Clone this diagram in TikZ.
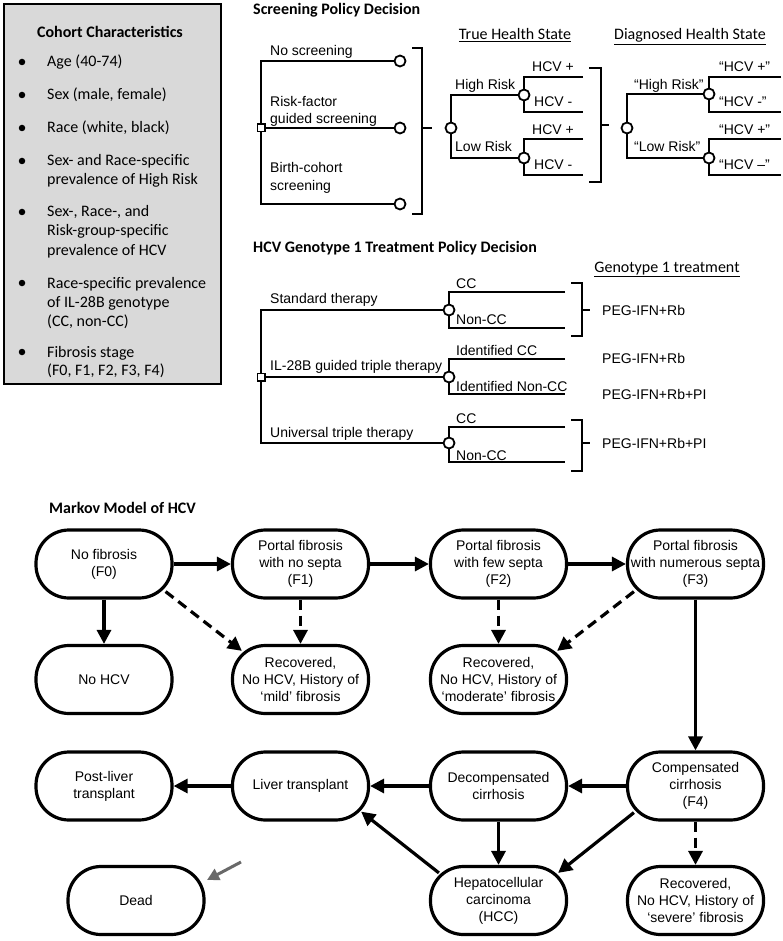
\documentclass[tikz,border=0pt]{standalone}
\usepackage{fontspec}
\setmainfont{Liberation Sans}
\newfontfamily\calibfam{Carlito}
\usetikzlibrary{arrows.meta,calc}
\newcommand\arialF{\fontsize{14}{17}\selectfont}
\newcommand\calF{\calibfam\fontsize{16}{19.5}\selectfont}
\newcommand\calB{\calibfam\bfseries\fontsize{16}{19.5}\selectfont}
\definecolor{cgray}{RGB}{217,217,217}
\definecolor{agray}{RGB}{105,105,105}
\begin{document}
\begin{tikzpicture}[x=1pt,y=-1pt,
 tl/.style={line width=1.8pt},
 chance/.style={circle,draw,fill=white,line width=1.8pt,minimum size=11pt,inner sep=0pt},
 decis/.style={rectangle,draw,fill=white,line width=1.5pt,minimum size=7.5pt,inner sep=0pt},
 lbl/.style={anchor=base west,inner sep=0pt,font=\arialF},
 clbl/.style={anchor=base west,inner sep=0pt,font=\calF},
 hdr/.style={anchor=base west,inner sep=0pt,font=\calB},
 uhdr/.style={anchor=base,inner sep=0pt,font=\calF},
 bul/.style={circle,fill,inner sep=0pt,minimum size=6.5pt},
 state/.style={draw,line width=3.2pt,rectangle,rounded corners=33pt,minimum width=136pt,minimum height=68pt,align=center,font=\arialF,inner sep=1pt},
 arr/.style={line width=3.2pt,-{Triangle[length=14pt,width=14pt]}},
 darr/.style={arr,dash pattern=on 10pt off 6pt},
]
\fill[white] (0,0) rectangle (783,941);
\useasboundingbox (0,0) rectangle (783,941);

% ---------------- Cohort box ----------------
\node[draw,fill=cgray,line width=1.8pt,minimum width=217pt,minimum height=380pt,inner sep=0pt] (cohort) at (112.5,194) {};
\node[anchor=base,inner sep=0pt,font=\calB] (ctitle) at (110,38) {Cohort Characteristics};
\node[bul] (b1) at (22,62) {};
\node[bul] (b2) at (22,95) {};
\node[bul] (b3) at (22,128) {};
\node[bul] (b4) at (22,161) {};
\node[bul] (b5) at (22,212) {};
\node[bul] (b6) at (22,283) {};
\node[bul] (b7) at (22,352) {};
\node[clbl] (i1) at (47,67) {Age (40-74)};
\node[clbl] (i2) at (47,100) {Sex (male, female)};
\node[clbl] (i3) at (47,133) {Race (white, black)};
\node[clbl] (i4a) at (47,166) {Sex- and Race-specific};
\node[clbl] (i4b) at (47,185) {prevalence of High Risk};
\node[clbl] (i5a) at (47,217) {Sex-, Race-, and};
\node[clbl] (i5b) at (47,236) {Risk-group-specific};
\node[clbl] (i5c) at (47,255) {prevalence of HCV};
\node[clbl] (i6a) at (47,288) {Race-specific prevalence};
\node[clbl] (i6b) at (47,307) {of IL-28B genotype};
\node[clbl] (i6c) at (47,326) {(CC, non-CC)};
\node[clbl] (i7a) at (47,357) {Fibrosis stage};
\node[clbl] (i7b) at (47,375) {(F0, F1, F2, F3, F4)};

% ---------------- Screening tree ----------------
\node[hdr] (scrT) at (253,15) {Screening Policy Decision};
\node[uhdr] (ths) at (515,40) {\underline{True Health State}};
\node[uhdr] (dhs) at (690,40) {\underline{Diagnosed Health State}};

\coordinate (s1) at (261,61);
\coordinate (s3) at (261,204);
\node[chance] (c1) at (400,61) {};
\node[chance] (c2) at (400,128) {};
\node[chance] (c3) at (400,204) {};
\draw[tl] (c1) -- (s1) -- (s3) -- (c3);
\node[decis] (sq1) at (261,128) {};
\draw[tl] (sq1) -- (c2);
\node[lbl] (l1) at (270,56) {No screening};
\node[lbl] (l2a) at (270,107) {Risk-factor};
\node[lbl] (l2b) at (270,124) {guided screening};
\node[lbl] (l3a) at (270,173) {Birth-cohort};
\node[lbl] (l3b) at (270,191) {screening};

% bracket 1
\coordinate (k1a) at (412,48); \coordinate (k1b) at (422,48);
\coordinate (k1c) at (422,214); \coordinate (k1d) at (412,214);
\coordinate (k1m) at (422,128); \coordinate (k1n) at (432,128);
\draw[tl] (k1a) -- (k1b) -- (k1c) -- (k1d);
\draw[tl] (k1m) -- (k1n);

% true health state
\coordinate (th) at (451,95); \coordinate (tlo) at (451,158);
\node[chance] (t1) at (524,95) {};
\node[chance] (t2) at (524,158) {};
\draw[tl] (t1) -- (th) -- (tlo) -- (t2);
\node[chance] (t0) at (451,128) {};
\coordinate (t1u) at (524,77); \coordinate (t1d) at (524,112);
\coordinate (t1ue) at (583,77); \coordinate (t1de) at (583,112);
\draw[tl] (t1ue) -- (t1u) -- (t1); \draw[tl] (t1) -- (t1d) -- (t1de);
\coordinate (t2u) at (524,139); \coordinate (t2d) at (524,175);
\coordinate (t2ue) at (583,139); \coordinate (t2de) at (583,175);
\draw[tl] (t2ue) -- (t2u) -- (t2); \draw[tl] (t2) -- (t2d) -- (t2de);
\node[lbl] (hr) at (455,90) {High Risk};
\node[lbl] (lr) at (455,152) {Low Risk};
\node[lbl] (h1) at (532,72) {HCV +};
\node[lbl] (h2) at (534,107) {HCV -};
\node[lbl] (h3) at (532,135) {HCV +};
\node[lbl] (h4) at (534,170) {HCV -};

% bracket 2
\coordinate (k2a) at (589,68); \coordinate (k2b) at (601,68);
\coordinate (k2c) at (601,182); \coordinate (k2d) at (589,182);
\coordinate (k2m) at (601,125); \coordinate (k2n) at (609,125);
\draw[tl] (k2a) -- (k2b) -- (k2c) -- (k2d);
\draw[tl] (k2m) -- (k2n);

% diagnosed health state
\coordinate (dh) at (627,94); \coordinate (dlo) at (627,158);
\node[chance] (d1) at (709,94) {};
\node[chance] (d2) at (709,158) {};
\draw[tl] (d1) -- (dh) -- (dlo) -- (d2);
\node[chance] (d0) at (627,128) {};
\coordinate (d1u) at (709,77); \coordinate (d1d) at (709,112);
\coordinate (d1ue) at (781,77); \coordinate (d1de) at (781,112);
\draw[tl] (d1ue) -- (d1u) -- (d1); \draw[tl] (d1) -- (d1d) -- (d1de);
\coordinate (d2u) at (709,139); \coordinate (d2d) at (709,175);
\coordinate (d2ue) at (781,139); \coordinate (d2de) at (781,175);
\draw[tl] (d2ue) -- (d2u) -- (d2); \draw[tl] (d2) -- (d2d) -- (d2de);
\node[lbl] (dhr) at (634,90) {“High Risk”};
\node[lbl] (dlr) at (634,152) {“Low Risk”};
\node[lbl] (g1) at (719,72) {“HCV +”};
\node[lbl] (g2) at (719,107) {“HCV -”};
\node[lbl] (g3) at (719,135) {“HCV +”};
\node[lbl] (g4) at (719,170) {“HCV –”};

% ---------------- Treatment tree ----------------
\node[hdr] (trT) at (253,252) {HCV Genotype 1 Treatment Policy Decision};
\node[uhdr] (g1t) at (667,272) {\underline{Genotype 1 treatment}};

\coordinate (r1) at (261,310); \coordinate (r3) at (261,443);
\node[chance] (e1) at (449,310) {};
\node[chance] (e2) at (449,377) {};
\node[chance] (e3) at (449,443) {};
\draw[tl] (e1) -- (r1) -- (r3) -- (e3);
\node[decis] (sq2) at (261,377) {};
\draw[tl] (sq2) -- (e2);

\coordinate (e1u) at (449,292); \coordinate (e1d) at (449,328);
\coordinate (e1ue) at (565,292); \coordinate (e1de) at (565,328);
\draw[tl] (e1ue) -- (e1u) -- (e1); \draw[tl] (e1) -- (e1d) -- (e1de);
\coordinate (e2u) at (449,359); \coordinate (e2d) at (449,394);
\coordinate (e2ue) at (565,359); \coordinate (e2de) at (565,394);
\draw[tl] (e2ue) -- (e2u) -- (e2); \draw[tl] (e2) -- (e2d) -- (e2de);
\coordinate (e3u) at (449,427); \coordinate (e3d) at (449,462);
\coordinate (e3ue) at (565,427); \coordinate (e3de) at (565,462);
\draw[tl] (e3ue) -- (e3u) -- (e3); \draw[tl] (e3) -- (e3d) -- (e3de);

\node[lbl] (st) at (270,303) {Standard therapy};
\node[lbl] (il) at (270,370) {IL-28B guided triple therapy};
\node[lbl] (ut) at (270,437) {Universal triple therapy};
\node[lbl] (cc1) at (456,288) {CC};
\node[lbl] (nc1) at (456,324) {Non-CC};
\node[lbl] (icc) at (456,355) {Identified CC};
\node[lbl] (inc) at (456,391) {Identified Non-CC};
\node[lbl] (cc3) at (456,423) {CC};
\node[lbl] (nc3) at (456,460) {Non-CC};

\coordinate (k3a) at (571,283); \coordinate (k3b) at (582,283);
\coordinate (k3c) at (582,336); \coordinate (k3d) at (571,336);
\coordinate (k3m) at (582,310); \coordinate (k3n) at (590,310);
\draw[tl] (k3a) -- (k3b) -- (k3c) -- (k3d);
\draw[tl] (k3m) -- (k3n);
\coordinate (k4a) at (571,420); \coordinate (k4b) at (582,420);
\coordinate (k4c) at (582,471); \coordinate (k4d) at (571,471);
\coordinate (k4m) at (582,443); \coordinate (k4n) at (590,443);
\draw[tl] (k4a) -- (k4b) -- (k4c) -- (k4d);
\draw[tl] (k4m) -- (k4n);

\node[lbl] (p1) at (602,315) {PEG-IFN+Rb};
\node[lbl] (p2) at (602,363) {PEG-IFN+Rb};
\node[lbl] (p3) at (602,399) {PEG-IFN+Rb+PI};
\node[lbl] (p4) at (602,448) {PEG-IFN+Rb+PI};

% ---------------- Markov model ----------------
\node[hdr] (mkT) at (49,513) {Markov Model of HCV};

\node[state] (f0) at (104,564) {No fibrosis\\(F0)};
\node[state] (f1) at (300.5,564) {Portal fibrosis\\with no septa\\(F1)};
\node[state] (f2) at (498.5,564) {Portal fibrosis\\with few septa\\(F2)};
\node[state] (f3) at (695.5,564) {Portal fibrosis\\with numerous septa\\(F3)};
\node[state] (nohcv) at (104,679.5) {No HCV};
\node[state] (mild) at (300.5,679.5) {Recovered,\\No HCV, History of\\‘mild’ fibrosis};
\node[state] (mod) at (498.5,679.5) {Recovered,\\No HCV, History of\\‘moderate’ fibrosis};
\node[state] (post) at (104,786) {Post-liver\\transplant};
\node[state] (liver) at (300.5,786) {Liver transplant};
\node[state] (decomp) at (498.5,786) {Decompensated\\cirrhosis};
\node[state] (comp) at (695.5,786) {Compensated\\cirrhosis\\(F4)};
\node[state] (dead) at (136,900.5) {Dead};
\node[state] (hcc) at (498.5,900.5) {Hepatocellular\\carcinoma\\(HCC)};
\node[state] (sev) at (695.5,900.5) {Recovered,\\No HCV, History of\\‘severe’ fibrosis};

\draw[arr] (f0) -- (f1);
\draw[arr] (f1) -- (f2);
\draw[arr] (f2) -- (f3);
\draw[arr] (f0) -- (nohcv);
\draw[darr] ($(f0.south east)+(-8,-8)$) -- ($(mild.north west)+(11,7)$);
\draw[darr] (f1) -- (mild);
\draw[darr] (f2) -- (mod);
\draw[darr] ($(f3.south west)+(8,-8)$) -- ($(mod.north east)+(-11,7)$);
\draw[arr] (f3) -- (comp);
\draw[arr] (comp) -- (decomp);
\draw[arr] (decomp) -- (liver);
\draw[arr] (liver) -- (post);
\draw[arr] (decomp) -- (hcc);
\draw[arr] ($(comp.south west)+(8,-9)$) -- ($(hcc.north east)+(-10,8)$);
\draw[arr] ($(hcc.north west)+(10,8)$) -- ($(liver.south east)+(-9,-10)$);
\draw[darr] (comp) -- (sev);

\coordinate (ga) at (241,862);
\coordinate (gb) at (207,880);
\draw[agray,line width=3pt,-{Triangle[length=12pt,width=12pt]}] (ga) -- (gb);
\end{tikzpicture}
\end{document}
